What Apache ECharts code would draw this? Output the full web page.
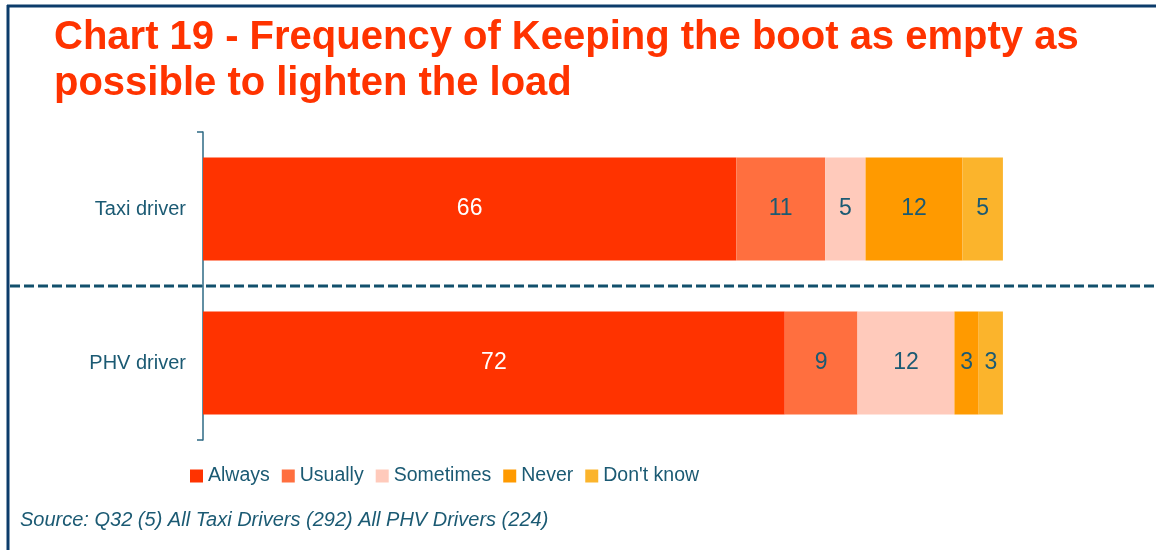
<!DOCTYPE html>
<html>
<head>
<meta charset="utf-8">
<script src="https://cdn.jsdelivr.net/npm/echarts@6/dist/echarts.min.js"></script>
<style>
  html, body { margin: 0; padding: 0; background: #fff; }
  #chart { width: 1156px; height: 550px; }
</style>
</head>
<body>
<div id="chart"></div>
<script>
const categories = ['Taxi driver', 'PHV driver']
const seriesNames = ['Always', 'Usually', 'Sometimes', 'Never', "Don't know"]
const always = [66, 72]
const usually = [11, 9]
const sometimes = [5, 12]
const never = [12, 3]
const dontKnow = [5, 3]

const colors = ['#ff3300', '#ff6f3f', '#ffcabb', '#ff9a00', '#fbb42c']
const labelColors = ['#ffffff', '#1b5a73', '#1b5a73', '#1b5a73', '#1b5a73']
const textColor = '#1b5a73'
const font = '"Liberation Sans", Arial, sans-serif'

const chart = echarts.init(document.getElementById('chart'))

const values = [always, usually, sometimes, never, dontKnow]
const series = values.map((data, i) => ({
  name: seriesNames[i],
  type: 'bar',
  stack: 'total',
  data: data,
  barWidth: 103,
  itemStyle: { color: colors[i] },
  label: {
    show: true,
    position: 'inside',
    color: labelColors[i],
    fontSize: 23,
    fontFamily: font,
  },
  emphasis: { disabled: true },
}))

chart.setOption({
  animation: false,
  title: {
    text: 'Chart 19 - Frequency of Keeping the boot as empty as\npossible to lighten the load',
    left: 49,
    top: 10,
    textStyle: {
      color: '#ff3300',
      fontSize: 40,
      fontWeight: 'bold',
      fontFamily: font,
      lineHeight: 46,
    },
  },
  legend: {
    data: seriesNames,
    left: 185,
    top: 461,
    icon: 'rect',
    itemWidth: 13,
    itemHeight: 13,
    itemGap: 12,
    textStyle: { color: textColor, fontSize: 19.5, fontFamily: font },
  },
  grid: {
    left: 203,
    top: 132,
    width: 808,
    height: 308,
  },
  xAxis: {
    type: 'value',
    min: 0,
    max: 100,
    show: false,
  },
  yAxis: {
    type: 'category',
    data: categories,
    inverse: true,
    axisLine: { show: true, lineStyle: { color: '#2e6a84', width: 1.5 } },
    axisTick: { show: true, length: 6, lineStyle: { color: '#2e6a84', width: 1.5 } },
    axisLabel: { color: textColor, fontSize: 20, fontFamily: font, margin: 17 },
  },
  series: series,
})

// divider between the two groups + frame lines
const yTop = chart.convertToPixel({ yAxisIndex: 0 }, categories[0])
const yBot = chart.convertToPixel({ yAxisIndex: 0 }, categories[1])
const yMid = Math.round((yTop + yBot) / 2)

chart.setOption({
  graphic: [
    {
      type: 'line',
      shape: { x1: 10, y1: yMid, x2: 1156, y2: yMid },
      style: { stroke: '#12506c', lineWidth: 3, lineDash: [10, 4] },
      z: 10,
    },
    {
      type: 'line',
      shape: { x1: 7, y1: 6, x2: 1156, y2: 6 },
      style: { stroke: '#0c3c6b', lineWidth: 3 },
    },
    {
      type: 'line',
      shape: { x1: 8, y1: 5, x2: 8, y2: 550 },
      style: { stroke: '#0c3c6b', lineWidth: 3 },
    },
    {
      type: 'text',
      left: 20,
      top: 510,
      style: {
        text: 'Source: Q32 (5) All Taxi Drivers (292) All PHV Drivers (224)',
        fill: textColor,
        fontSize: 20,
        fontStyle: 'italic',
        fontFamily: font,
      },
    },
  ],
})

window.addEventListener('resize', () => chart.resize())
</script>
</body>
</html>
